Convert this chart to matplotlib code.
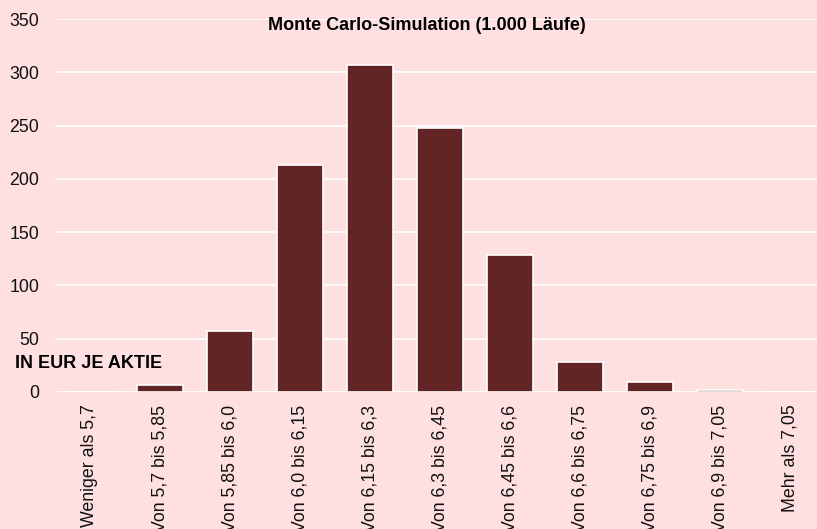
import numpy as np
import matplotlib.pyplot as plt

plt.rcParams['font.family'] = ['Liberation Sans', 'DejaVu Sans']

categories = ["Weniger als 5,7", "Von 5,7 bis 5,85", "Von 5,85 bis 6,0",
              "Von 6,0 bis 6,15", "Von 6,15 bis 6,3", "Von 6,3 bis 6,45",
              "Von 6,45 bis 6,6", "Von 6,6 bis 6,75", "Von 6,75 bis 6,9",
              "Von 6,9 bis 7,05", "Mehr als 7,05"]
counts = [0, 7, 57, 213, 307, 248, 129, 28, 9, 2, 0]
yticks = [0, 50, 100, 150, 200, 250, 300, 350]

bg = "#FFE0E1"
bar_color = "#632425"

W, H = 817, 529
fig = plt.figure(figsize=(W / 100, H / 100), dpi=100, facecolor=bg)
ax = fig.add_axes([55 / W, 1 - 392 / H, 770 / W, (392 - 19) / H])
ax.set_facecolor(bg)

x = np.arange(len(categories))
ax.bar(x, counts, width=0.66, color=bar_color, edgecolor="white", linewidth=1.2, zorder=3)

ax.set_xlim(-0.5, len(categories) - 0.5)
ax.set_ylim(0, 350)
ax.set_yticks(yticks)
ax.set_xticks(x)
ax.set_xticklabels(categories, rotation=90, va="top", ha="center")
ax.yaxis.grid(True, color="white", linewidth=1.2, zorder=0)
ax.set_axisbelow(True)
for s in ax.spines.values():
    s.set_visible(False)
ax.tick_params(axis="both", length=0, labelsize=12.8, colors="#111111")
ax.tick_params(axis="y", pad=11.5)
ax.tick_params(axis="x", pad=9)

fig.text(427 / W, 1 - 25 / H, "Monte Carlo-Simulation (1.000 Läufe)",
         ha="center", va="center", fontsize=13, fontweight="bold", color="black")
fig.text(15 / W, 1 - 363 / H, "IN EUR JE AKTIE",
         ha="left", va="center", fontsize=13, fontweight="bold", color="black")

fig.savefig("out.png", dpi=100, facecolor=bg)
